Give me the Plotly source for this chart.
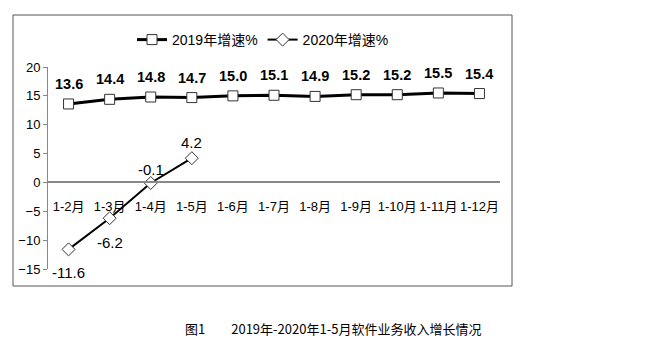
import plotly.graph_objects as go

categories = ["1-2月", "1-3月", "1-4月", "1-5月", "1-6月", "1-7月", "1-8月", "1-9月", "1-10月", "1-11月", "1-12月"]
growth_2019 = [13.6, 14.4, 14.8, 14.7, 15.0, 15.1, 14.9, 15.2, 15.2, 15.5, 15.4]
growth_2020 = [-11.6, -6.2, -0.1, 4.2]
labels_2019 = [f"{v:.1f}" for v in growth_2019]
labels_2020 = [f"{v:.1f}" for v in growth_2020]
shift_2020 = [-23, -24, 14, 16]

FONT = "Liberation Sans, Arial, Noto Sans CJK SC, sans-serif"

fig = go.Figure()
fig.add_trace(go.Scatter(
    x=categories, y=growth_2019, name="2019年增速%",
    mode="lines+markers",
    line=dict(color="#000", width=3),
    marker=dict(symbol="square", size=10, color="white", line=dict(color="#333", width=1)),
    cliponaxis=False,
))
fig.add_trace(go.Scatter(
    x=categories[:len(growth_2020)], y=growth_2020, name="2020年增速%",
    mode="lines+markers",
    line=dict(color="#000", width=2),
    marker=dict(symbol="diamond", size=10, color="white", line=dict(color="#333", width=1)),
    cliponaxis=False,
))

W, H = 663, 351
L, R, T, B = 48, 500, 67, 269
pw, ph = R - L, B - T

def px(x):
    return (x - L) / pw

def py(y):
    return (B - y) / ph

annotations = []
for c, v, t in zip(categories, growth_2019, labels_2019):
    annotations.append(dict(x=c, y=v, xref="x", yref="y", text=t, showarrow=False,
                            yshift=20, xanchor="center", yanchor="middle",
                            font=dict(family=FONT, size=14.5, color="#000", weight="bold")))
for c, v, t, s in zip(categories, growth_2020, labels_2020, shift_2020):
    annotations.append(dict(x=c, y=v, xref="x", yref="y", text=t, showarrow=False,
                            yshift=s, xanchor="center", yanchor="middle",
                            font=dict(family=FONT, size=15, color="#000")))
annotations.append(dict(text="图1\u2003\u20032019年-2020年1-5月软件业务收入增长情况",
                        xref="paper", yref="paper", x=px(333), y=py(328),
                        xanchor="center", yanchor="middle", showarrow=False,
                        font=dict(family="Noto Sans CJK SC, sans-serif", size=13, color="#000")))

fig.update_layout(
    width=W, height=H,
    margin=dict(l=L, r=W - R, t=T, b=H - B, pad=0),
    paper_bgcolor="white", plot_bgcolor="white",
    font=dict(family=FONT, size=13, color="#000"),
    showlegend=True,
    legend=dict(orientation="h", x=px(263), y=py(40), xanchor="center", yanchor="middle",
                font=dict(family=FONT, size=14, color="#000"), itemwidth=30,
                bgcolor="rgba(0,0,0,0)", tracegroupgap=0),
    xaxis=dict(type="category", range=[-0.5, 10.5], showgrid=False, zeroline=False,
               showline=True, linecolor="#888", linewidth=1.5,
               anchor="free", position=15 / 35, ticks="",
               ticklabelstandoff=12,
               tickfont=dict(family=FONT, size=13, color="#000")),
    yaxis=dict(range=[-15, 20], dtick=5, showgrid=False, zeroline=False,
               showline=True, linecolor="#888", linewidth=1,
               ticks="outside", ticklen=4, tickcolor="#888",
               tickfont=dict(family=FONT, size=13, color="#000")),
    shapes=[dict(type="rect", xref="paper", yref="paper",
                 x0=px(13), x1=px(512), y0=py(286), y1=py(15),
                 line=dict(color="#555", width=1), fillcolor="rgba(0,0,0,0)", layer="below")],
    annotations=annotations,
)

fig.write_html("out.html")
